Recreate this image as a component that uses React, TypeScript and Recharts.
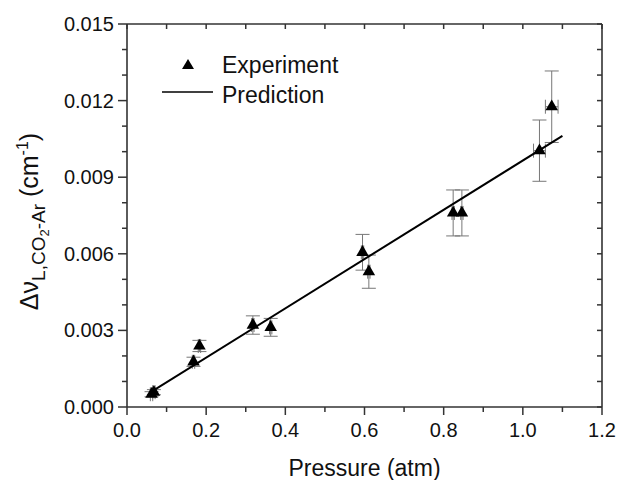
import React from 'react';
import { ComposedChart, Scatter, Line, XAxis, YAxis, ZAxis, ErrorBar, Legend } from 'recharts';

// measured points
const pressure = [0.062, 0.068, 0.168, 0.183, 0.318, 0.363, 0.595, 0.611, 0.824, 0.846, 1.042, 1.073];
const shift = [0.0005, 0.00058, 0.00177, 0.00239, 0.00321, 0.00312, 0.00606, 0.0053, 0.0076, 0.0076, 0.01004, 0.01176];
const shiftErr = [0.0001, 0.0001, 0.00018, 0.00022, 0.00036, 0.00035, 0.0007, 0.00065, 0.0009, 0.0009, 0.0012, 0.0014];
const pressureErr = [0.003, 0.003, 0.003, 0.003, 0.003, 0.003, 0.003, 0.003, 0.003, 0.003, 0.015, 0.016];

// fitted line
const predPressure = [0.06, 1.1];
const predShift = [0.00058, 0.01062];

const xTicks = [0, 0.1, 0.2, 0.3, 0.4, 0.5, 0.6, 0.7, 0.8, 0.9, 1.0, 1.1, 1.2];
const yTicks = [0, 0.001, 0.002, 0.003, 0.004, 0.005, 0.006, 0.007, 0.008, 0.009, 0.01, 0.011, 0.012, 0.013, 0.014, 0.015];

const expData = pressure.map((p, i) => ({ p, v: shift[i], vErr: shiftErr[i], pErr: pressureErr[i] }));
const predData = predPressure.map((p, i) => ({ p, v: predShift[i] }));

const FONT = '"Liberation Sans", Arial, Helvetica, sans-serif';
const AXIS = '#333';
const TEXT = '#111';

if (typeof document !== 'undefined') document.body.style.margin = '0';

const BottomTick = ({ x, y, payload }: any) => {
  const major = Math.round(payload.value * 10) % 2 === 0;
  return (
    <g>
      <line x1={x} y1={y} x2={x} y2={y + (major ? 8 : 5)} stroke={AXIS} strokeWidth={1.5} />
      {major && (
        <text x={x} y={y + 30} textAnchor="middle" fontSize={20} fontFamily={FONT} fill={TEXT}>
          {payload.value.toFixed(1)}
        </text>
      )}
    </g>
  );
};

const LeftTick = ({ x, y, payload }: any) => {
  const major = Math.round(payload.value * 1000) % 3 === 0;
  return (
    <g>
      <line x1={x} y1={y} x2={x - (major ? 9 : 5)} y2={y} stroke={AXIS} strokeWidth={1.5} />
      {major && (
        <text x={x - 13} y={y + 7} textAnchor="end" fontSize={20} fontFamily={FONT} fill={TEXT}>
          {payload.value.toFixed(3)}
        </text>
      )}
    </g>
  );
};

const RightTick = ({ x, y }: any) => (
  <line x1={x} y1={y} x2={x - 5} y2={y} stroke={AXIS} strokeWidth={1.5} />
);

const TopTick = ({ x, y }: any) => (
  <line x1={x} y1={y} x2={x} y2={y + 5} stroke={AXIS} strokeWidth={1.5} />
);

const YTitle = ({ viewBox }: any) => {
  const cx = viewBox.x + 38;
  const cy = viewBox.y + viewBox.height / 2 + 6;
  return (
    <text
      x={cx}
      y={cy}
      transform={`rotate(-90, ${cx}, ${cy})`}
      textAnchor="middle"
      fontFamily={FONT}
      fontSize={25}
      fill={TEXT}
    >
      <tspan>Δν</tspan>
      <tspan fontSize={19} dy={7}>L,CO</tspan>
      <tspan fontSize={13} dy={4}>2</tspan>
      <tspan fontSize={19} dy={-4}>-Ar</tspan>
      <tspan fontSize={25} dy={-7}> (cm</tspan>
      <tspan fontSize={16} dy={-10}>-1</tspan>
      <tspan fontSize={25} dy={10}>)</tspan>
    </text>
  );
};

const XTitle = ({ viewBox }: any) => (
  <text
    x={viewBox.x + viewBox.width / 2}
    y={viewBox.y + 69}
    textAnchor="middle"
    fontFamily={FONT}
    fontSize={23}
    fill={TEXT}
  >
    Pressure (atm)
  </text>
);

const LegendBox = () => (
  <svg width={250} height={80} style={{ display: 'block' }}>
    <path d="M38,19 L44,29 L32,29 Z" fill="#000" />
    <text x={72} y={33} fontFamily={FONT} fontSize={23} fill={TEXT}>Experiment</text>
    <line x1={12} y1={52} x2={63} y2={52} stroke="#000" strokeWidth={1.5} />
    <text x={72} y={63} fontFamily={FONT} fontSize={23} fill={TEXT}>Prediction</text>
  </svg>
);

export default function App() {
  return (
    <div style={{ width: 628, height: 480, background: '#fff' }}>
      <ComposedChart width={628} height={480} margin={{ top: 23, right: 25, bottom: 0, left: 0 }}>
        <XAxis
          xAxisId="bottom"
          dataKey="p"
          type="number"
          domain={[0, 1.2]}
          allowDataOverflow
          ticks={xTicks}
          interval={0}
          height={73}
          tickSize={0}
          tickMargin={0}
          tickLine={false}
          tick={<BottomTick />}
          axisLine={{ stroke: AXIS, strokeWidth: 1.6 }}
          label={{ content: <XTitle /> }}
        />
        <XAxis
          xAxisId="top"
          orientation="top"
          dataKey="p"
          type="number"
          domain={[0, 1.2]}
          allowDataOverflow
          ticks={xTicks}
          interval={0}
          height={1}
          tickSize={0}
          tickMargin={0}
          tickLine={false}
          tick={<TopTick />}
          axisLine={{ stroke: AXIS, strokeWidth: 1.6 }}
        />
        <YAxis
          yAxisId="left"
          type="number"
          domain={[0, 0.015]}
          allowDataOverflow
          ticks={yTicks}
          interval={0}
          width={127}
          tickSize={0}
          tickMargin={0}
          tickLine={false}
          tick={<LeftTick />}
          axisLine={{ stroke: AXIS, strokeWidth: 1.6 }}
          label={{ content: <YTitle /> }}
        />
        <YAxis
          yAxisId="right"
          orientation="right"
          type="number"
          domain={[0, 0.015]}
          allowDataOverflow
          ticks={yTicks}
          interval={0}
          width={1}
          tickSize={0}
          tickMargin={0}
          tickLine={false}
          tick={<RightTick />}
          axisLine={{ stroke: AXIS, strokeWidth: 1.6 }}
        />
        <ZAxis range={[68, 68]} />
        <Scatter
          data={expData}
          dataKey="v"
          xAxisId="bottom"
          yAxisId="left"
          shape="triangle"
          fill="#000"
          isAnimationActive={false}
        >
          <ErrorBar dataKey="vErr" direction="y" width={7} stroke="#777" strokeWidth={1} />
          <ErrorBar dataKey="pErr" direction="x" width={7} stroke="#777" strokeWidth={1} />
        </Scatter>
        <Line
          data={predData}
          dataKey="v"
          xAxisId="bottom"
          yAxisId="left"
          type="linear"
          stroke="#000"
          strokeWidth={2}
          dot={false}
          activeDot={false}
          isAnimationActive={false}
        />
        <Legend
          layout="vertical"
          align="center"
          verticalAlign="middle"
          content={<LegendBox />}
          wrapperStyle={{ top: 40, left: 150, width: 250, height: 80 }}
        />
      </ComposedChart>
    </div>
  );
}
